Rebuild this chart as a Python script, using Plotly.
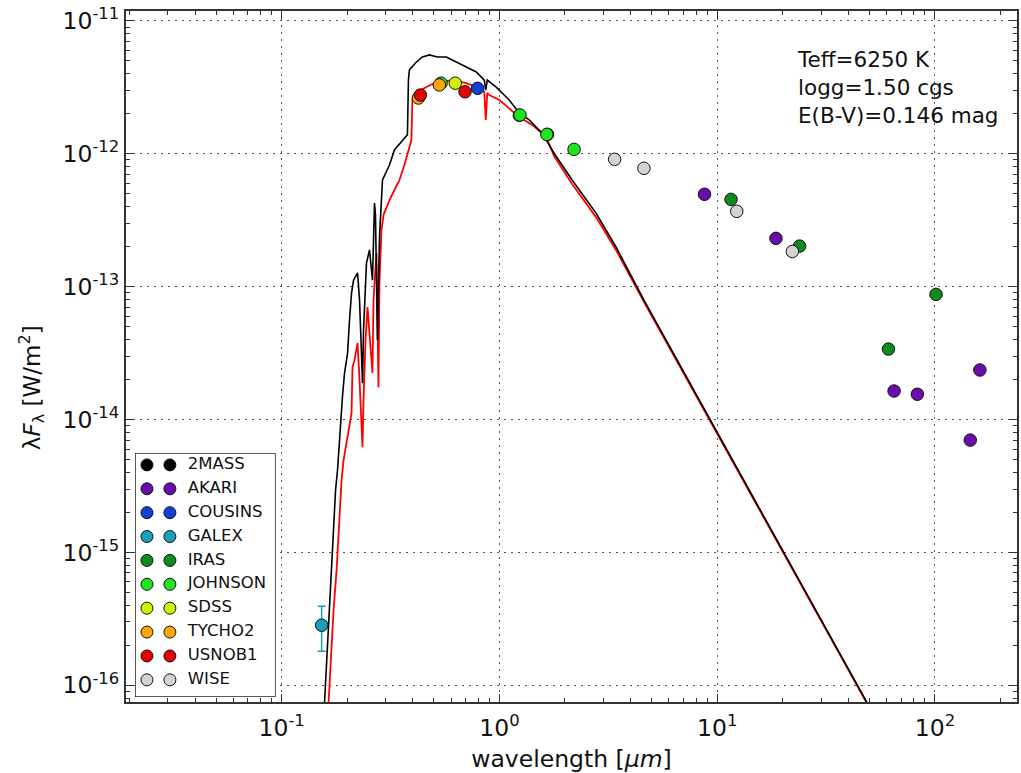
import plotly.graph_objects as go

# ---- model spectra: wavelength [micron], lambda*F_lambda [W/m^2] ----
model_wave = [0.1558, 0.1608, 0.1660, 0.1713, 0.1768, 0.1805, 0.1884, 0.1904, 0.1944, 0.2007,
              0.2049, 0.2093, 0.2138, 0.2207, 0.2231, 0.2278, 0.2303, 0.2351, 0.2376, 0.2452,
              0.2531, 0.2586, 0.2612, 0.2668, 0.2696, 0.2754, 0.2783, 0.2813, 0.2904, 0.3126,
              0.3294, 0.3585, 0.3780, 0.3820, 0.3860, 0.4156, 0.4428, 0.4767, 0.5187, 0.5705,
              0.6339, 0.7042, 0.7829, 0.8518, 0.8654, 0.8792, 0.9667, 1.109, 1.232, 1.370,
              1.571, 1.783, 2.156, 2.777, 3.430, 4.609, 8.236, 15.51, 29.21, 48.48, 55.04]
model_flux = [5.45e-17, 1.54e-16, 4.37e-16, 1.24e-15, 2.94e-15, 4.16e-15, 1.24e-14, 1.53e-14, 2.24e-14, 3.16e-14,
              5.60e-14, 8.95e-14, 1.12e-13, 1.22e-13, 1.27e-13, 7.93e-14, 4.71e-14, 1.88e-14, 4.71e-14, 1.51e-13,
              1.89e-13, 1.33e-13, 1.12e-13, 4.26e-13, 3.46e-13, 3.96e-14, 1.59e-13, 2.36e-13, 6.35e-13, 8.23e-13,
              1.07e-12, 1.27e-12, 1.39e-12, 3.59e-12, 4.28e-12, 4.91e-12, 5.36e-12, 5.55e-12, 5.36e-12, 5.36e-12,
              4.91e-12, 4.50e-12, 4.13e-12, 3.59e-12, 3.02e-12, 3.59e-12, 3.18e-12, 2.54e-12, 2.03e-12, 1.80e-12,
              1.43e-12, 1.01e-12, 6.35e-13, 3.58e-13, 1.99e-13, 7.93e-14, 1.42e-14, 2.19e-15, 3.37e-16, 7.57e-17, 5.18e-17]

reddened_wave = [0.1625, 0.1677, 0.1731, 0.1787, 0.1844, 0.1884, 0.1924, 0.1986, 0.2049, 0.2093,
                 0.2115, 0.2160, 0.2231, 0.2278, 0.2327, 0.2351, 0.2376, 0.2427, 0.2478, 0.2531,
                 0.2612, 0.2640, 0.2725, 0.2754, 0.2783, 0.2813, 0.2873, 0.2935, 0.3029, 0.3126,
                 0.3294, 0.3474, 0.3662, 0.3820, 0.3942, 0.3984, 0.4156, 0.4618, 0.4920, 0.5298,
                 0.6078, 0.7042, 0.8081, 0.8518, 0.8654, 0.8792, 0.8982, 1.000, 1.232, 1.414,
                 1.639, 1.783, 2.156, 2.777, 3.430, 4.609, 8.236, 15.51, 29.21, 48.48, 55.04]
reddened_flux = [5.45e-17, 1.54e-16, 3.67e-16, 7.35e-16, 1.75e-15, 3.50e-15, 4.95e-15, 7.00e-15, 9.07e-15, 1.12e-14,
                 2.48e-14, 2.80e-14, 3.76e-14, 1.98e-14, 9.90e-15, 6.20e-15, 1.40e-14, 3.96e-14, 7.02e-14, 4.71e-14,
                 2.24e-14, 7.93e-14, 1.79e-13, 5.60e-14, 1.75e-14, 1.12e-13, 2.67e-13, 3.46e-13, 3.98e-13, 4.49e-13,
                 5.34e-13, 6.35e-13, 8.23e-13, 1.07e-12, 1.27e-12, 2.54e-12, 2.87e-12, 3.18e-12, 3.35e-12, 3.47e-12,
                 3.59e-12, 3.41e-12, 3.13e-12, 2.92e-12, 1.80e-12, 2.87e-12, 2.77e-12, 2.54e-12, 1.89e-12, 1.65e-12,
                 1.34e-12, 9.62e-13, 5.92e-13, 3.34e-13, 1.89e-13, 7.70e-14, 1.39e-14, 2.15e-15, 3.30e-16, 7.40e-17, 5.10e-17]

# ---- photometry per system ----
twomass_wave = [1.235, 1.662]
twomass_flux = [1.95e-12, 1.40e-12]
akari_wave = [8.746, 18.62, 64.94, 83.06, 145.3, 160.9]
akari_flux = [4.96e-13, 2.31e-13, 1.64e-14, 1.55e-14, 7.00e-15, 2.36e-14]
cousins_wave = [0.7937]
cousins_flux = [3.11e-12]
galex_wave = [0.1526]
galex_flux = [2.83e-16]
galex_err_plus = [1.10e-16]
galex_err_minus = [1.03e-16]
iras_wave = [11.58, 23.91, 61.17, 101.2]
iras_flux = [4.54e-13, 2.02e-13, 3.39e-14, 8.75e-14]
johnson_wave = [0.5393, 1.242, 1.651, 2.202]
johnson_flux = [3.40e-12, 1.96e-12, 1.40e-12, 1.08e-12]
sdss_wave = [0.627]
sdss_flux = [3.40e-12]
tycho2_wave = [0.4245, 0.5298]
tycho2_flux = [2.63e-12, 3.30e-12]
usnob1_wave = [0.4335, 0.695]
usnob1_flux = [2.77e-12, 2.93e-12]
wise_wave = [3.382, 4.609, 12.30, 22.14]
wise_flux = [9.09e-13, 7.78e-13, 3.69e-13, 1.84e-13]

system_names = ["2MASS", "AKARI", "COUSINS", "GALEX", "IRAS", "JOHNSON", "SDSS", "TYCHO2", "USNOB1", "WISE"]
system_colors = ["#000000", "#6a0dad", "#1040d8", "#1aa0b8", "#0b8c1c", "#1ee61e", "#d2f000", "#ffa500", "#e60000", "#d3d3d3"]

x_ticks = [0.1, 1, 10, 100]
x_ticktext = ["10<sup>-1</sup>", "10<sup>0</sup>", "10<sup>1</sup>", "10<sup>2</sup>"]
y_ticks = [1e-16, 1e-15, 1e-14, 1e-13, 1e-12, 1e-11]
y_ticktext = ["10<sup>-16</sup>", "10<sup>-15</sup>", "10<sup>-14</sup>", "10<sup>-13</sup>", "10<sup>-12</sup>", "10<sup>-11</sup>"]

FONT = "DejaVu Sans"
FRAME = "#333333"

fig = go.Figure()

# reddened model underneath, intrinsic model on top
fig.add_trace(go.Scatter(x=reddened_wave, y=reddened_flux, mode="lines",
                         line=dict(color="#ff0000", width=1.8), showlegend=False, hoverinfo="skip"))
fig.add_trace(go.Scatter(x=model_wave, y=model_flux, mode="lines",
                         line=dict(color="#000000", width=1.6), showlegend=False, hoverinfo="skip"))

phot = [
    (twomass_wave, twomass_flux),
    (akari_wave, akari_flux),
    (cousins_wave, cousins_flux),
    (galex_wave, galex_flux),
    (iras_wave, iras_flux),
    (johnson_wave, johnson_flux),
    (sdss_wave, sdss_flux),
    (tycho2_wave, tycho2_flux),
    (usnob1_wave, usnob1_flux),
    (wise_wave, wise_flux),
]

for name, color, (w, f) in zip(system_names, system_colors, phot):
    err = None
    if name == "GALEX":
        err = dict(type="data", symmetric=False, array=galex_err_plus, arrayminus=galex_err_minus,
                   color=color, thickness=1.5, width=4)
    fig.add_trace(go.Scatter(x=w, y=f, mode="markers", name=name, error_y=err,
                             marker=dict(size=12.5, color=color, line=dict(color="#111111", width=1)),
                             showlegend=False))

# ---- legend panel drawn on its own small axes ----
n = len(system_names)
fig.add_trace(go.Scatter(x=[0, 10, 10, 0, 0], y=[9.72, 9.72, -0.5, -0.5, 9.72], mode="lines",
                         fill="toself", fillcolor="white", line=dict(width=0),
                         xaxis="x2", yaxis="y2", showlegend=False, hoverinfo="skip"))
for i, (name, color) in enumerate(zip(system_names, system_colors)):
    fig.add_trace(go.Scatter(x=[0.85, 2.48], y=[i, i], mode="markers",
                             marker=dict(size=12, color=color, line=dict(color="#111111", width=1)),
                             xaxis="x2", yaxis="y2", showlegend=False, hoverinfo="skip"))
fig.add_trace(go.Scatter(x=[3.75] * n, y=list(range(n)), mode="text", text=system_names,
                         textposition="middle right", textfont=dict(family=FONT, size=16.5, color="#111111"),
                         xaxis="x2", yaxis="y2", showlegend=False, hoverinfo="skip"))

axis_common = dict(
    type="log",
    ticks="inside", ticklen=8, tickwidth=1.2, tickcolor=FRAME,
    showline=True, linewidth=2, linecolor=FRAME, mirror="allticks",
    showgrid=True, gridcolor="#555555", gridwidth=1, griddash="2px,5px",
    zeroline=False,
    tickfont=dict(family=FONT, size=23.5, color="#111111"),
)

fig.update_layout(
    width=1021, height=773,
    margin=dict(l=126, r=2, t=11, b=71),
    paper_bgcolor="white", plot_bgcolor="white",
    font=dict(family=FONT, color="#111111"),
    xaxis=dict(
        **axis_common,
        range=[-1.715, 2.377],
        tickmode="array", tickvals=x_ticks, ticktext=x_ticktext,
        ticklabelstandoff=4,
        minor=dict(tickmode="array",
                   tickvals=[m * 10.0 ** e for e in range(-2, 3) for m in range(2, 10)],
                   ticks="inside", ticklen=4, tickwidth=1, tickcolor=FRAME, showgrid=False),
        title=dict(text="wavelength [<i>μm</i>]", font=dict(family=FONT, size=23.5), standoff=10),
    ),
    yaxis=dict(
        **axis_common,
        range=[-16.126, -10.925],
        tickmode="array", tickvals=y_ticks, ticktext=y_ticktext,
        minor=dict(tickmode="array",
                   tickvals=[m * 10.0 ** e for e in range(-17, -10) for m in range(2, 10)],
                   ticks="inside", ticklen=4, tickwidth=1, tickcolor=FRAME, showgrid=False),
    ),
    xaxis2=dict(domain=[0.0101, 0.168], range=[0, 10], anchor="y2",
                visible=False, fixedrange=True),
    yaxis2=dict(domain=[0.0072, 0.3604], range=[9.72, -0.5], anchor="x2",
                visible=False, fixedrange=True),
    shapes=[dict(type="rect", xref="x2", yref="y2", x0=0, x1=10, y0=-0.5, y1=9.72,
                 line=dict(color="#222222", width=1.5), fillcolor="rgba(0,0,0,0)", layer="above")],
    annotations=[
        dict(text="Teff=6250 K<br>logg=1.50 cgs<br>E(B-V)=0.146 mag",
             xref="paper", yref="paper", x=0.7514, y=0.951, xanchor="left", yanchor="top",
             align="left", showarrow=False, font=dict(family=FONT, size=21.5, color="#111111")),
        dict(text="λ<i>F</i><sub>λ</sub> [W/m<sup>2</sup>]", textangle=-90,
             xref="paper", yref="paper", x=-0.106, y=0.455, xanchor="center", yanchor="middle",
             showarrow=False, font=dict(family=FONT, size=23, color="#111111")),
    ],
)

fig.write_html("out.html")
